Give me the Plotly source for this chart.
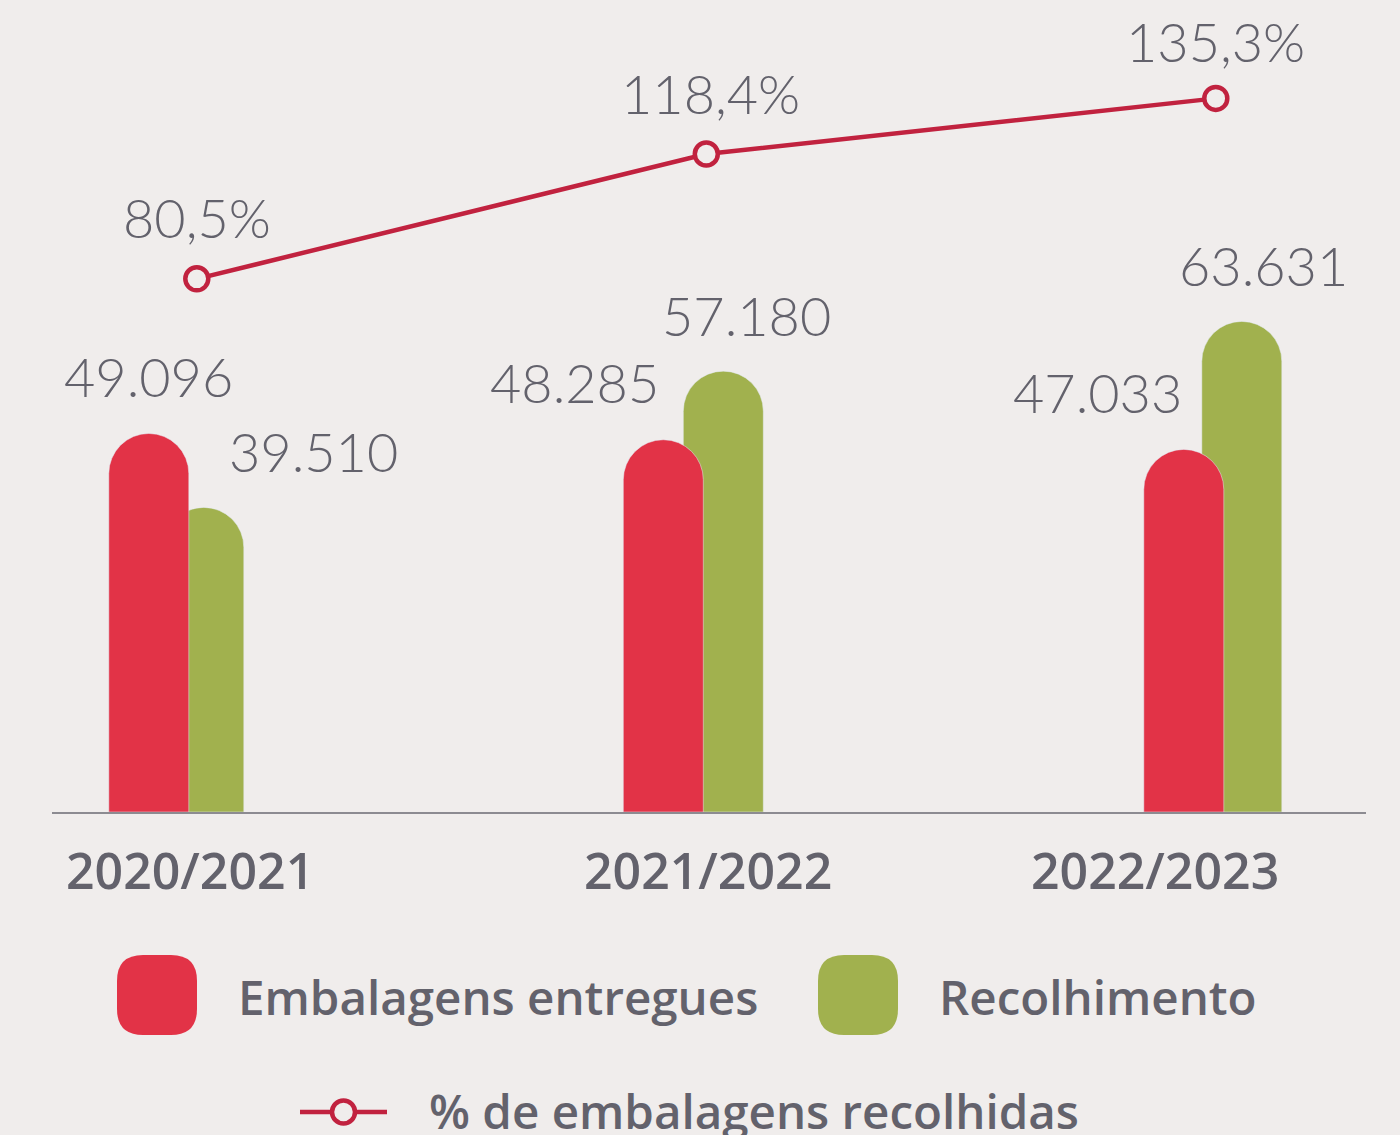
import plotly.graph_objects as go

# ---- data ----
categories = ["2020/2021", "2021/2022", "2022/2023"]
entregues = [49096, 48285, 47033]
recolhimento = [39510, 57180, 63631]
pct_recolhidas = [80.5, 118.4, 135.3]
entregues_labels = ["49.096", "48.285", "47.033"]
recolhimento_labels = ["39.510", "57.180", "63.631"]
pct_labels = ["80,5%", "118,4%", "135,3%"]
legend_names = ["Embalagens entregues", "Recolhimento", "% de embalagens recolhidas"]

# ---- style ----
W, H = 1400, 1135
ML, MR, MT, MB = 52, 34, 20, 323
BG = "#F0EDEC"
RED = "#E23347"
GREEN = "#A1B14E"
LINE = "#C1223F"
TXT = "#63626C"
AXIS = "#8C8B91"
UNIT = 509.5  # px per category step

xi = list(range(len(categories)))
red_off = [o / UNIT for o in (-88, -83, -72)]
green_off = [o / UNIT for o in (-33, -23, -14)]
bar_w = 80 / UNIT

fig = go.Figure()
fig.add_trace(go.Bar(x=xi, y=recolhimento, name=legend_names[1], marker_color=GREEN,
                     offset=green_off, width=[bar_w] * 3, marker_cornerradius="50%",
                     showlegend=False, hoverinfo="skip"))
fig.add_trace(go.Bar(x=xi, y=entregues, name=legend_names[0], marker_color=RED,
                     offset=red_off, width=[bar_w] * 3, marker_cornerradius="50%",
                     showlegend=False, hoverinfo="skip"))
fig.add_trace(go.Scatter(x=xi, y=pct_recolhidas, yaxis="y2", mode="lines+markers",
                         name=legend_names[2],
                         line=dict(color=LINE, width=4.5),
                         marker=dict(size=23, color=BG, line=dict(color=LINE, width=4.5)),
                         showlegend=False, hoverinfo="skip"))

ann = []
num_font = dict(family="Lato", size=54, color=TXT, weight=300)
lab_font = dict(family="Open Sans", size=50, color=TXT, weight=600)
leg_font = dict(family="Open Sans", size=47.5, color=TXT, weight=600)

ent_dx = [-48, -132, -118]
rec_dx = [117, 40, 48]
for i in xi:
    ann.append(dict(x=i, y=entregues[i], xref="x", yref="y", text=entregues_labels[i],
                    showarrow=False, xshift=ent_dx[i], yshift=57, yanchor="middle",
                    font=num_font))
    ann.append(dict(x=i, y=recolhimento[i], xref="x", yref="y", text=recolhimento_labels[i],
                    showarrow=False, xshift=rec_dx[i], yshift=56, yanchor="middle",
                    font=num_font))

pct_dy = [61, 61, 57]
pct_dx = [0, 4, 0]
for i in xi:
    ann.append(dict(x=i, y=pct_recolhidas[i], xref="x", yref="y2", text=pct_labels[i],
                    showarrow=False, xshift=pct_dx[i], yshift=pct_dy[i], yanchor="middle",
                    font=num_font))

cat_dx = [-7, 2, -61]
for i in xi:
    ann.append(dict(x=i, y=0, xref="x", yref="y", text=categories[i], showarrow=False,
                    xshift=cat_dx[i], yshift=-58, yanchor="middle", font=lab_font))

PW = W - ML - MR
PH = H - MT - MB


def px(x):
    return (x - ML) / PW


def py(y):
    return (H - MB - y) / PH


def rrect(x0, y0, x1, y1, r):
    # rounded rectangle path in paper coordinates (pixel input)
    pts = []
    pts.append(f"M {px(x0 + r)},{py(y0)}")
    pts.append(f"L {px(x1 - r)},{py(y0)}")
    pts.append(f"Q {px(x1)},{py(y0)} {px(x1)},{py(y0 + r)}")
    pts.append(f"L {px(x1)},{py(y1 - r)}")
    pts.append(f"Q {px(x1)},{py(y1)} {px(x1 - r)},{py(y1)}")
    pts.append(f"L {px(x0 + r)},{py(y1)}")
    pts.append(f"Q {px(x0)},{py(y1)} {px(x0)},{py(y1 - r)}")
    pts.append(f"L {px(x0)},{py(y0 + r)}")
    pts.append(f"Q {px(x0)},{py(y0)} {px(x0 + r)},{py(y0)}")
    pts.append("Z")
    return " ".join(pts)


shapes = [
    dict(type="path", xref="paper", yref="paper", path=rrect(117, 955, 197, 1035, 26),
         fillcolor=RED, line=dict(width=0)),
    dict(type="path", xref="paper", yref="paper", path=rrect(818, 955, 898, 1035, 26),
         fillcolor=GREEN, line=dict(width=0)),
    dict(type="line", xref="paper", yref="paper", x0=px(300), x1=px(387), y0=py(1112), y1=py(1112),
         line=dict(color=LINE, width=4.5)),
    dict(type="circle", xref="paper", yref="paper", x0=px(332), x1=px(355), y0=py(1100.5), y1=py(1123.5),
         fillcolor=BG, line=dict(color=LINE, width=4.5)),
]

ann.append(dict(x=px(236), y=py(996), xref="paper", yref="paper", text=legend_names[0],
                showarrow=False, xanchor="left", yanchor="middle", font=leg_font))
ann.append(dict(x=px(937), y=py(996), xref="paper", yref="paper", text=legend_names[1],
                showarrow=False, xanchor="left", yanchor="middle", font=leg_font))
ann.append(dict(x=px(427), y=py(1110), xref="paper", yref="paper", text=legend_names[2],
                showarrow=False, xanchor="left", yanchor="middle", font=leg_font))

fig.update_layout(
    width=W, height=H,
    margin=dict(l=ML, r=MR, t=MT, b=MB, pad=0),
    paper_bgcolor=BG, plot_bgcolor=BG,
    barmode="overlay",
    xaxis=dict(range=[(ML - 706.3) / UNIT + 1, (W - MR - 706.3) / UNIT + 1],
               showgrid=False, zeroline=False, showticklabels=False, ticks="",
               showline=True, linecolor=AXIS, linewidth=1.5, fixedrange=True),
    yaxis=dict(range=[0, PH / 0.00771], showgrid=False, zeroline=False,
               showticklabels=False, showline=False, fixedrange=True),
    yaxis2=dict(range=[-81.4, 159.1], overlaying="y", side="right", showgrid=False,
                zeroline=False, showticklabels=False, showline=False, fixedrange=True),
    annotations=ann,
    shapes=shapes,
    showlegend=False,
)

fig.write_html("out.html", config={"displayModeBar": False},
               post_script="document.body.style.margin='0';document.body.style.background='#F0EDEC';")
